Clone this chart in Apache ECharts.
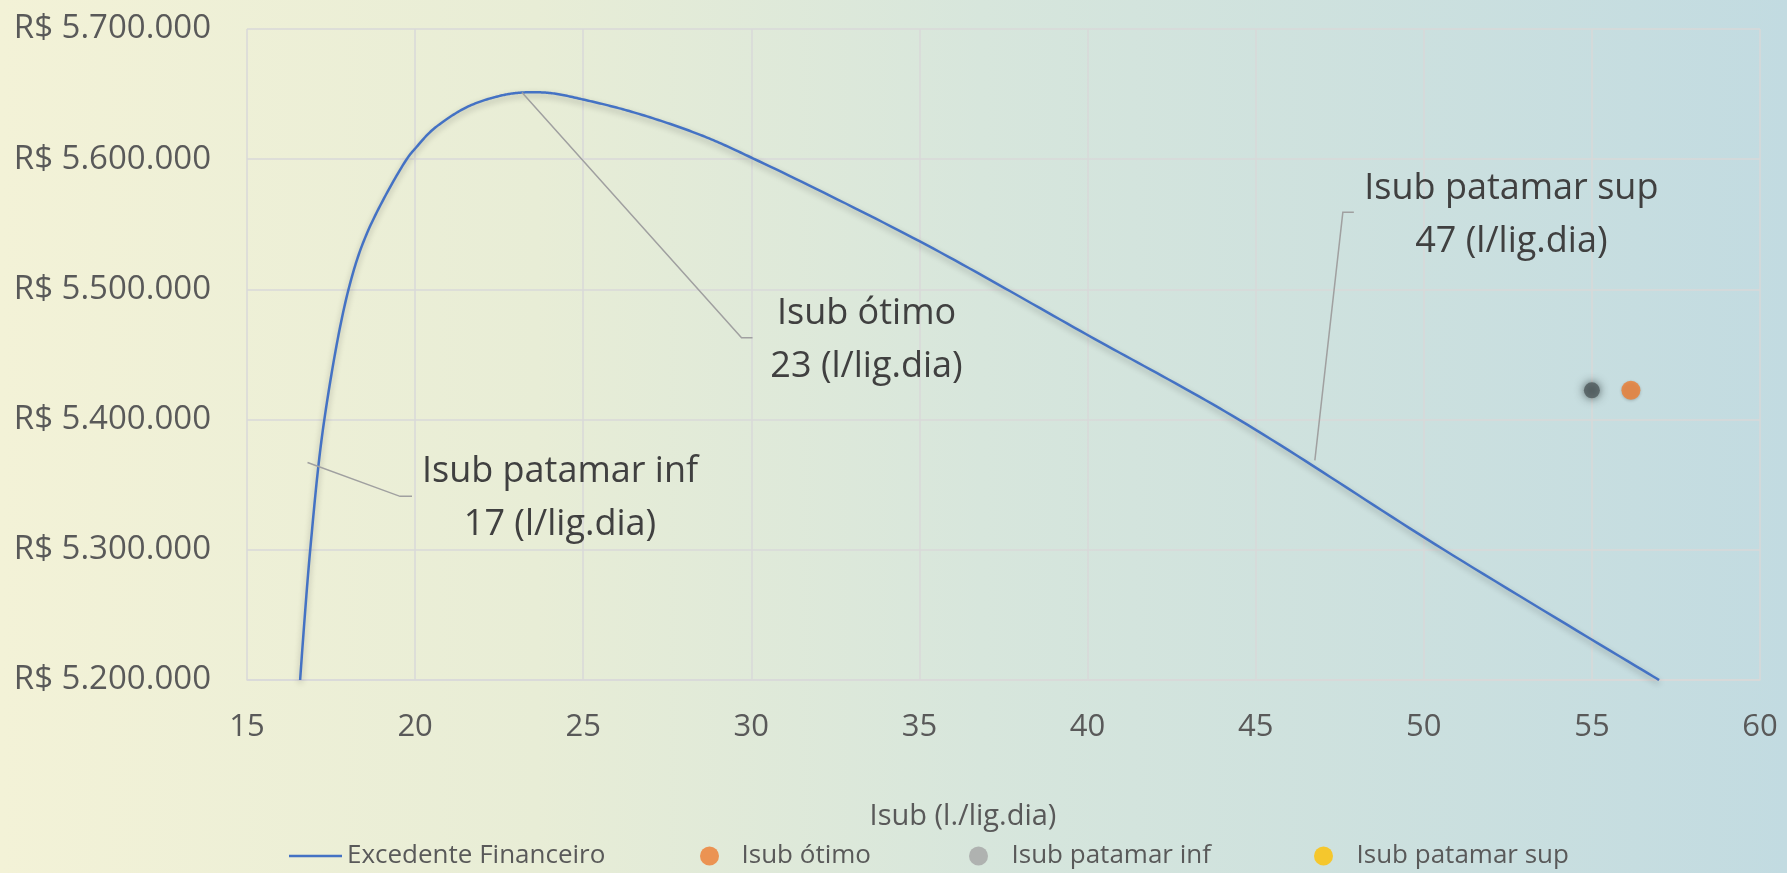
<!DOCTYPE html>
<html>
<head>
<meta charset="utf-8">
<script src="https://cdn.jsdelivr.net/npm/echarts@6/dist/echarts.min.js"></script>
<style>
html,body{margin:0;padding:0;}
#c{width:1787px;height:873px;}
</style>
</head>
<body>
<div id="c"></div>
<script>
// ---- data ----
var curveX = [16.58, 16.88, 17.30, 18.02, 18.60, 19.75, 20.03, 20.54, 21.54, 22.53, 23.18, 24.02, 25.04, 26.50, 28.48, 30.06, 35.0, 40.0, 44.5, 50.6, 57.0];
var curveY = [5200000, 5300000, 5400000, 5500000, 5545000, 5600000, 5609000, 5623000, 5640000, 5648700, 5651200, 5650800, 5645600, 5636000, 5618700, 5600500, 5537000, 5465000, 5400000, 5300000, 5200000];
var otimoPts = [[56.16, 5422500]];
var infPts = [[55.0, 5422500]];
var supPts = [];
var annotX = [23.18, 16.8, 46.76];
var annotY = [5651200, 5367000, 5368700];
var annotText = ['Isub ótimo\n23 (l/lig.dia)', 'Isub patamar inf\n17 (l/lig.dia)', 'Isub patamar sup\n47 (l/lig.dia)'];
var xTicks = {min: 15, max: 60, interval: 5};
var yTicks = {min: 5200000, max: 5700000, interval: 100000};
var seriesNames = ['Excedente Financeiro', 'Isub ótimo', 'Isub patamar inf', 'Isub patamar sup'];
var axisName = 'Isub (l./lig.dia)';

// ---- layout for annotation leaders (pixel offsets from anchor) ----
var annotLayout = [
  {elbow: [219.5, 245.3], end: [230.5, 245.3], text: [344.5, 247.5]},
  {elbow: [92.5, 33.8], end: [104.5, 33.8], text: [252.5, 35.5]},
  {elbow: [28, -248], end: [39, -248], text: [196.5, -245.5]}
];

var FONT = '"Open Sans", "Noto Sans", sans-serif';
var curveData = curveX.map(function (x, i) { return [x, curveY[i]]; });
var annotData = annotX.map(function (x, i) { return [x, annotY[i], i]; });

function fmt(v) {
  var s = Math.round(v).toString().replace(/\B(?=(\d{3})+(?!\d))/g, '.');
  return 'R$ ' + s;
}

// centripetal Catmull-Rom through pixel points, rendered as a dense polyline
function splinePixels(P) {
  var out = [P[0]];
  var n = P.length;
  function dist(a, b) { return Math.pow(Math.hypot(b[0] - a[0], b[1] - a[1]), 0.5); }
  for (var i = 0; i < n - 1; i++) {
    var p0 = P[Math.max(i - 1, 0)], p1 = P[i], p2 = P[i + 1], p3 = P[Math.min(i + 2, n - 1)];
    var d1 = dist(p0, p1), d2 = dist(p1, p2), d3 = dist(p2, p3);
    var c1, c2;
    if (d1 < 1e-6) { c1 = p1.slice(); } else {
      c1 = [0, 1].map(function (k) {
        return (d1 * d1 * p2[k] - d2 * d2 * p0[k] + (2 * d1 * d1 + 3 * d1 * d2 + d2 * d2) * p1[k]) / (3 * d1 * (d1 + d2));
      });
    }
    if (d3 < 1e-6) { c2 = p2.slice(); } else {
      c2 = [0, 1].map(function (k) {
        return (d3 * d3 * p1[k] - d2 * d2 * p3[k] + (2 * d3 * d3 + 3 * d3 * d2 + d2 * d2) * p2[k]) / (3 * d3 * (d3 + d2));
      });
    }
    var steps = 24;
    for (var s = 1; s <= steps; s++) {
      var t = s / steps, u = 1 - t;
      out.push([
        u * u * u * p1[0] + 3 * u * u * t * c1[0] + 3 * u * t * t * c2[0] + t * t * t * p2[0],
        u * u * u * p1[1] + 3 * u * u * t * c1[1] + 3 * u * t * t * c2[1] + t * t * t * p2[1]
      ]);
    }
  }
  return out;
}

var chart = echarts.init(document.getElementById('c'));
var gridLine = {show: true, lineStyle: {color: '#d9d9d9', width: 1.5}};
var legendText = {fontFamily: FONT, fontSize: 26, color: '#595959'};
var legTop = 838;
var option = {
  animation: false,
  backgroundColor: {
    type: 'linear', x: 0, y: 0, x2: 1, y2: 0,
    colorStops: [
      {offset: 0, color: '#f3f2d7'},
      {offset: 0.3, color: '#e8edd6'},
      {offset: 0.55, color: '#d7e6dc'},
      {offset: 1, color: '#c2dbe1'}
    ]
  },
  grid: {left: 247, right: 27, top: 29, bottom: 193, containLabel: false},
  xAxis: {
    type: 'value', min: xTicks.min, max: xTicks.max, interval: xTicks.interval,
    axisLine: {show: true, lineStyle: {color: '#d9d9d9', width: 1.5}},
    axisTick: {show: false},
    splitLine: gridLine,
    axisLabel: {fontFamily: FONT, fontSize: 31, color: '#595959', margin: 32}
  },
  yAxis: {
    type: 'value', min: yTicks.min, max: yTicks.max, interval: yTicks.interval,
    axisLine: {show: false},
    axisTick: {show: false},
    splitLine: gridLine,
    axisLabel: {fontFamily: FONT, fontSize: 33, color: '#595959', margin: 36, formatter: fmt}
  },
  legend: [
    {data: [{name: seriesNames[0], icon: 'rect', itemStyle: {color: '#4472c4'}}], left: 284, top: legTop, itemWidth: 53, itemHeight: 2.5, textStyle: legendText, selectedMode: false},
    {data: [seriesNames[1]], left: 695, top: legTop, itemWidth: 54, itemHeight: 19, textStyle: legendText, selectedMode: false},
    {data: [{name: seriesNames[2], itemStyle: {color: '#a5a5a5', shadowBlur: 0}}], left: 964, top: legTop, itemWidth: 56, itemHeight: 19, textStyle: legendText, selectedMode: false},
    {data: [seriesNames[3]], left: 1309, top: legTop, itemWidth: 56, itemHeight: 19, textStyle: legendText, selectedMode: false}
  ],
  graphic: [{
    type: 'text', x: 963, y: 817,
    style: {text: axisName, font: '29px ' + FONT, fill: '#595959', align: 'center', verticalAlign: 'middle'}
  }],
  series: [
    {
      name: seriesNames[0], type: 'custom', data: curveData, silent: true,
      encode: {x: 0, y: 1},
      itemStyle: {color: '#4472c4'},
      renderItem: function (params, api) {
        if (params.dataIndex !== 0) return null;
        var px = curveData.map(function (d) { return api.coord(d); });
        return {
          type: 'polyline',
          shape: {points: splinePixels(px)},
          style: {stroke: '#4472c4', lineWidth: 2.5, fill: null, lineJoin: 'round',
                  shadowColor: 'rgba(0,0,0,0.28)', shadowBlur: 6, shadowOffsetY: 3}
        };
      }
    },
    {
      name: seriesNames[1], type: 'scatter', data: otimoPts, symbolSize: 19,
      itemStyle: {color: '#ed7d31', shadowColor: 'rgba(0,0,0,0.25)', shadowBlur: 3, shadowOffsetY: 1}
    },
    {
      name: seriesNames[2], type: 'scatter', data: infPts, symbolSize: 16,
      itemStyle: {color: '#4f5a5c', shadowColor: 'rgba(30,40,40,0.9)', shadowBlur: 10}
    },
    {
      name: seriesNames[3], type: 'scatter', data: supPts, symbolSize: 19,
      itemStyle: {color: '#ffc000'}
    },
    {
      name: 'annotations', type: 'custom', data: annotData, clip: false, silent: true,
      renderItem: function (params, api) {
        var i = api.value(2);
        var p = api.coord([api.value(0), api.value(1)]);
        var L = annotLayout[i];
        return {
          type: 'group',
          children: [
            {
              type: 'polyline',
              shape: {points: [p, [p[0] + L.elbow[0], p[1] + L.elbow[1]], [p[0] + L.end[0], p[1] + L.end[1]]]},
              style: {stroke: '#a0a0a0', lineWidth: 1.5, fill: null}
            },
            {
              type: 'text',
              style: {
                text: annotText[i], x: p[0] + L.text[0], y: p[1] + L.text[1],
                font: '36px ' + FONT, fill: '#404040', align: 'center', verticalAlign: 'middle', lineHeight: 53
              }
            }
          ]
        };
      }
    }
  ]
};
chart.setOption(option);
</script>
</body>
</html>
